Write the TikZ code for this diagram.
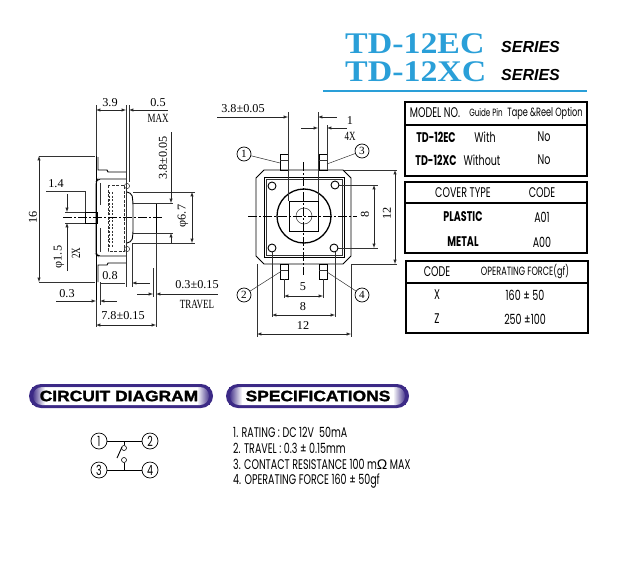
\documentclass[tikz,border=0pt]{standalone}
\usepackage{fontspec}
\usetikzlibrary{fadings}
\setmainfont{Liberation Serif}
\newfontfamily\ttlfont[FakeStretch=1.13]{Liberation Serif}
\newfontfamily\dimfont[FakeStretch=1.02]{Liberation Serif}
\newfontfamily\nrwfont[FakeStretch=0.72]{Liberation Serif}
\newfontfamily\tabfont[FakeStretch=0.68]{Poppins}
\newfontfamily\serfont{Liberation Sans}
\newfontfamily\wdefont[FakeStretch=1.16,FakeBold=1.6]{Liberation Sans}
\definecolor{tdblue}{HTML}{2A9FD8}
\definecolor{pillpurple}{HTML}{3C2A86}
\pgfdeclareverticalshading{pillfill}{100bp}{color(0bp)=(pillpurple!90); color(22bp)=(white); color(72bp)=(white); color(100bp)=(pillpurple!70)}
\tikzset{
  partln/.style={line width=0.9pt},
  thinln/.style={line width=0.5pt, black!80},
  dimln/.style={line width=0.5pt, black!85, >=latex},
  centln/.style={line width=0.5pt, dash pattern=on 9pt off 2pt on 2pt off 2pt},
  dimlab/.style={font=\dimfont\fontsize{12}{12}\selectfont, inner sep=0pt},
  nrwlab/.style={font=\nrwfont\fontsize{12.5}{12.5}\selectfont, inner sep=0pt},
  tabbox/.style={line width=1.6pt},
  tabtxt/.style={font=\tabfont\fontsize{14}{14}\selectfont, inner sep=0pt},
  tabsmall/.style={font=\tabfont\fontsize{12}{12}\selectfont, inner sep=0pt},
  tabbold/.style={font=\tabfont\bfseries\fontsize{14}{14}\selectfont, inner sep=0pt},
  titl/.style={font=\ttlfont\bfseries\fontsize{30}{30}\selectfont, text=tdblue, inner sep=0pt, anchor=west},
  serieslab/.style={font=\serfont\bfseries\itshape\fontsize{16}{16}\selectfont, inner sep=0pt, anchor=west},
  pinno/.style={circle, draw, line width=0.7pt, minimum size=14pt, inner sep=0pt, fill=white, font=\dimfont\fontsize{11}{11}\selectfont},
  bigno/.style={circle, draw, line width=0.7pt, minimum size=16pt, inner sep=0pt, font=\tabfont\fontsize{14}{14}\selectfont},
  swdot/.style={circle, draw, line width=0.6pt, minimum size=5pt, inner sep=0pt},
  pilllab/.style={font=\wdefont\bfseries\fontsize{15}{15}\selectfont, inner sep=0pt},
  speclab/.style={font=\tabfont\fontsize{14}{14}\selectfont, inner sep=0pt, anchor=west},
}
\begin{document}
\begin{tikzpicture}[x=1pt, y=-1pt]
  \useasboundingbox (0,0) rectangle (617,567);
  % heading
  \node[titl] (ttl0) at (345,44) {TD-12EC};
  \node[titl] (ttl1) at (345,72) {TD-12XC};
  \node[serieslab] (ser0) at (501,47) {SERIES};
  \node[serieslab] (ser1) at (501,75) {SERIES};
  \draw[tdblue, line width=1.6pt] (323,91) -- (587,91);

  % model table
  \draw[tabbox] (405,102) rectangle (587,176);
  \draw[tabbox] (405,125) -- (587,125);
  \node[tabtxt] (mt0) at (435,113) {MODEL NO.};
  \node[tabsmall, font=\tabfont\fontsize{10.5}{11}\selectfont] (mt1) at (486,113) {Guide Pin};
  \node[tabsmall] (mt2) at (545,113) {Tape \&Reel Option};
  \node[tabbold] (mt3) at (436,137) {TD-12EC};
  \node[tabtxt] (mt4) at (485,137) {With};
  \node[tabtxt] (mt5) at (544,137) {No};
  \node[tabbold] (mt6) at (436,160) {TD-12XC};
  \node[tabtxt] (mt7) at (482,160) {Without};
  \node[tabtxt] (mt8) at (544,160) {No};

  % cover table
  \draw[tabbox] (405,182) rectangle (587,253);
  \draw[tabbox] (405,203) -- (587,203);
  \node[tabtxt] (cv0) at (463,193) {COVER TYPE};
  \node[tabtxt] (cv1) at (542,193) {CODE};
  \node[tabbold] (cv2) at (463,217) {PLASTIC};
  \node[tabtxt] (cv3) at (542,217) {A01};
  \node[tabbold] (cv4) at (463,242) {METAL};
  \node[tabtxt] (cv5) at (542,242) {A00};

  % force table
  \draw[tabbox] (406,261) rectangle (588,333);
  \draw[tabbox] (406,283) -- (588,283);
  \node[tabtxt] (fc0) at (437,272) {CODE};
  \node[tabsmall] (fc1) at (525,272) {OPERATING FORCE(gf)};
  \node[tabtxt] (fc2) at (437,295) {X};
  \node[tabtxt] (fc3) at (525,295) {160 ± 50};
  \node[tabtxt] (fc4) at (437,319) {Z};
  \node[tabtxt] (fc5) at (525,319) {250 ±100};

  % side view, body
  \draw[partln] (96,156) -- (96,300);
  \draw[partln] (98,157) -- (98,170) -- (107,170) -- (108,172) -- (126,172);
  \draw[partln] (98,282) -- (98,265) -- (107,265) -- (108,263) -- (126,263);
  \draw[partln, rounded corners=2pt] (126,179) -- (98,179) -- (96,182) -- (96,254) -- (98,256) -- (126,256);
  \draw[thinln] (100,183) -- (100,205) (100,228) -- (100,252);
  \draw[partln] (126,172) -- (126,263);
  \draw[thinln, dash pattern=on 3pt off 1.5pt] (108,185) rectangle (124,251);
  \draw[thinln, dash pattern=on 2pt off 1.5pt] (109,192) -- (109,247) (112,192) -- (112,247);
  \draw[thinln] (127,186) circle (2.6) (127,249) circle (2.6);
  \draw[partln, rounded corners=2pt] (127,192) -- (132,194) -- (133,203) -- (133,233) -- (132,241) -- (127,243);
  \draw[partln] (133,203) -- (156,203) -- (156,233) -- (133,233);
  \draw[partln] (85,212) rectangle (97,223);
  \draw[centln] (63,217) -- (163,217);

  % side view, dimensions
  \draw[thinln] (96,105) -- (96,156) (126,105) -- (126,287) (129,105) -- (129,182);
  \draw[thinln] (39,156) -- (95,156) (39,282) -- (95,282);
  \draw[thinln] (46,191) -- (85,191) -- (85,212) (65,212) -- (85,212) (65,223) -- (85,223);
  \draw[thinln] (133,192) -- (195,192) (133,203) -- (173,203) (133,233) -- (173,233) (133,243) -- (195,243);
  \draw[thinln] (132,243) -- (132,287) (153,268) -- (153,297) (156,233) -- (156,327) (96,300) -- (96,327);
  \draw[thinln] (100,282) -- (100,305);
  \node[dimlab] (d39) at (110,103) {3.9};
  \draw[dimln, <->] (96,110) -- (126,110);
  \node[dimlab] (d05) at (158,103) {0.5};
  \node[nrwlab] (dmax) at (158,118) {MAX};
  \draw[dimln, <-] (129,110) -- (168,110);
  \node[dimlab, rotate=90] (d16) at (33,217) {16};
  \draw[dimln, <->] (39,156) -- (39,282);
  \node[dimlab] (d14) at (56,184) {1.4};
  \draw[dimln, ->] (67,194) -- (67,212);
  \draw[dimln, ->] (67,271) -- (67,223);
  \node[dimlab, rotate=90] (dphi) at (59,257) {φ1.5};
  \node[nrwlab, rotate=90] (d2x) at (76,253) {2X};
  \node[dimlab, rotate=90] (d38s) at (163,158) {3.8±0.05};
  \draw[dimln, ->] (171,132) -- (171,203);
  \draw[dimln, ->] (171,243) -- (171,233);
  \node[dimlab, rotate=90] (d67) at (183,216) {φ6.7};
  \draw[dimln, <->] (192,192) -- (192,243);
  \node[dimlab] (d08) at (110,276) {0.8};
  \draw[thinln] (100,283) -- (125,283);
  \draw[dimln, <-] (132,283) -- (150,283);
  \node[dimlab] (d03t) at (197,285) {0.3±0.15};
  \draw[dimln, ->] (137,294) -- (153,294);
  \draw[dimln, <-] (156,294) -- (218,294);
  \node[nrwlab] (dtrav) at (197,304) {TRAVEL};
  \node[dimlab] (d03) at (67,294) {0.3};
  \draw[dimln, ->] (56,301) -- (96,301);
  \draw[dimln, <-] (100,301) -- (117,301);
  \node[dimlab] (d78) at (123,316) {7.8±0.15};
  \draw[dimln, <->] (96,325) -- (156,325);

  % front view, body
  \draw[partln] (264,170) -- (343,170) -- (351,178) -- (351,256) -- (343,264) -- (264,264) -- (256,256) -- (256,178) -- cycle;
  \draw[partln] (264,177) rectangle (344,257);
  \draw[thinln] (266,179) rectangle (342,255);
  \draw[partln] (272,186) circle (4) (335,185) circle (4) (272,248) circle (4) (334,248) circle (4);
  \draw[line width=1.3pt] (304,216) circle (27);
  \draw[partln] (289,201) rectangle (318,231);
  \draw[thinln] (304,216) circle (8);
  \draw[centln] (248,216) -- (357,216);
  \draw[centln] (303,162) -- (303,275);
  \foreach \pinx in {280,319} {
    \draw[partln] (\pinx,154) rectangle (\pinx+8,170);
    \draw[thinln] (\pinx,160) -- (\pinx+8,160);
    \draw[partln] (\pinx,264) rectangle (\pinx+8,279);
    \draw[thinln] (\pinx,270) -- (\pinx+8,270);
  }

  % pin numbers
  \node[pinno] (pn1) at (244,154) {1};
  \node[pinno] (pn3) at (362,151) {3};
  \node[pinno] (pn2) at (244,295) {2};
  \node[pinno] (pn4) at (362,295) {4};
  \coordinate (pc1) at (280,163);
  \coordinate (pc3) at (327,164);
  \coordinate (pc2) at (280,272);
  \coordinate (pc4) at (327,272);
  \draw[thinln] (pn1) -- (pc1) (pn3) -- (pc3) (pn2) -- (pc2) (pn4) -- (pc4);

  % front view, dimensions
  \draw[thinln] (288,112) -- (288,201) (318,112) -- (318,201) (327,125) -- (327,170);
  \node[dimlab] (f38) at (243,109) {3.8±0.05};
  \draw[dimln, ->] (217,117) -- (288,117);
  \draw[dimln, <-] (318,117) -- (337,117);
  \node[dimlab] (f1) at (350,121) {1};
  \node[nrwlab] (f4x) at (350,136) {4X};
  \draw[dimln, ->] (301,128) -- (318,128);
  \draw[dimln, <-] (327,128) -- (347,128);
  \draw[thinln] (344,170) -- (397,170) (351,264) -- (397,264);
  \draw[dimln, <->] (395,170) -- (395,264);
  \node[dimlab, rotate=90] (f12v) at (387,213) {12};
  \draw[thinln] (339,185) -- (378,185) (338,248) -- (378,248);
  \draw[dimln, <->] (374,185) -- (374,248);
  \node[dimlab, rotate=90] (f8v) at (365,214) {8};
  \draw[thinln] (284,279) -- (284,298) (323,279) -- (323,298);
  \node[dimlab] (f5) at (303,287) {5};
  \draw[dimln, <->] (284,296) -- (323,296);
  \draw[thinln] (272,252) -- (272,317) (335,252) -- (335,317);
  \node[dimlab] (f8h) at (303,307) {8};
  \draw[dimln, <->] (272,315) -- (335,315);
  \draw[thinln] (257,264) -- (257,337) (351,264) -- (351,337);
  \node[dimlab] (f12h) at (303,326) {12};
  \draw[dimln, <->] (257,334) -- (351,334);

  % title bars
  \foreach \barx/\barw in {29/184,226/183} {
    \fill[pillpurple, rounded corners=12pt] (\barx,384) rectangle (\barx+\barw,408);
    \shade[rounded corners=9pt, shading=pillfill] (\barx+4,387) rectangle (\barx+\barw-4,405);
    \fill[pillpurple, path fading=east] (\barx+3,387) rectangle (\barx+16,405);
    \fill[pillpurple, path fading=west] (\barx+\barw-16,387) rectangle (\barx+\barw-3,405);
  }
  \node[pilllab] (ccd) at (119,396) {CIRCUIT DIAGRAM};
  \node[pilllab] (spc) at (318,396) {SPECIFICATIONS};

  % circuit
  \node[bigno] (cc1) at (99,441) {1};
  \node[bigno] (cc2) at (150,441) {2};
  \node[bigno] (cc3) at (99,470) {3};
  \node[bigno] (cc4) at (150,470) {4};
  \draw[partln] (cc1) -- (cc2);
  \draw[partln] (cc3) -- (cc4);
  \node[swdot] (sw0) at (124,448) {};
  \node[swdot] (sw1) at (124,460) {};
  \draw[partln] (124,441) -- (sw0);
  \draw[partln] (sw1) -- (124,470);
  \draw[partln] (117,458) -- (122,447);

  % specifications
  \node[speclab] (sp0) at (233,432) {1. RATING : DC 12V\ \ 50mA};
  \node[speclab] (sp1) at (233,448) {2. TRAVEL : 0.3 ± 0.15mm};
  \node[speclab] (sp2) at (233,464) {3. CONTACT RESISTANCE 100 m{\serfont Ω} MAX};
  \node[speclab] (sp3) at (233,481) {4. OPERATING FORCE 160 ± 50gf};
\end{tikzpicture}
\end{document}
